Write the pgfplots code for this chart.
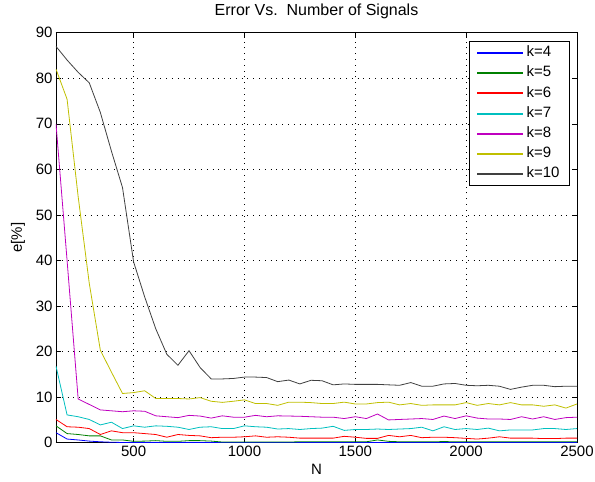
\documentclass[border=0pt]{standalone}
\usepackage{fontspec}
\setmainfont{Liberation Sans}
\usepackage{pgfplots}
\usepackage{pgfplotstable}
\pgfplotsset{compat=1.18}
\definecolor{mblue}{rgb}{0,0,1}
\definecolor{mgreen}{rgb}{0,0.5,0}
\definecolor{mred}{rgb}{1,0,0}
\definecolor{mcyan}{rgb}{0,0.75,0.75}
\definecolor{mmagenta}{rgb}{0.75,0,0.75}
\definecolor{myellow}{rgb}{0.75,0.75,0}
\definecolor{mgray}{rgb}{0.25,0.25,0.25}
\pgfplotstableread{
N k4 k5 k6 k7 k8 k9 k10
150 2.2 3.7 5.1 16.8 70 82 87
200 0.8 2.0 3.5 6.1 40 75.4 84
250 0.6 1.8 3.4 5.7 9.6 54 81.3
300 0.35 1.5 3.1 5.1 8.4 35 79
350 0.2 1.5 1.8 3.9 7.2 20.3 72.5
400 0.1 0.6 2.6 4.5 7.0 15.5 64
450 0.05 0.6 2.2 3.1 6.8 10.8 56
500 0.05 0.3 2.2 3.7 7.0 11.0 39.7
550 0.05 0.35 2.0 3.4 6.9 11.4 32
600 0.05 0.45 1.8 3.7 5.9 9.7 25
650 0.05 0.3 1.2 3.6 5.7 9.7 19.4
700 0.05 0.3 1.8 3.4 5.5 9.7 17
750 0.05 0.45 1.6 2.9 6.0 9.6 20.2
800 0.05 0.45 1.5 3.4 5.85 9.9 16.5
850 0.05 0.35 1.1 3.5 5.4 9.1 14
900 0.05 0.15 1.2 3.1 5.9 8.85 14
950 0.05 0.15 1.2 3.1 5.6 9.1 14.1
1000 0.05 0.15 1.3 3.7 5.6 9.4 14.4
1050 0.05 0.15 1.5 3.5 6.0 8.6 14.4
1100 0.05 0.15 1.2 3.4 5.7 8.6 14.3
1150 0.05 0.15 1.3 3.0 5.9 8.2 13.4
1200 0.05 0.15 1.2 3.1 5.85 8.9 13.75
1250 0.05 0.2 1.0 2.9 5.8 8.9 12.9
1300 0.05 0.2 1.0 3.1 5.7 8.8 13.7
1350 0.05 0.2 1.0 3.2 5.6 8.6 13.6
1400 0.05 0.2 1.0 3.6 5.6 8.6 12.7
1450 0.05 0.2 1.4 2.7 5.3 8.9 12.9
1500 0.05 0.2 1.2 2.9 5.7 8.5 12.8
1550 0.05 0.2 0.95 2.9 5.3 8.5 12.8
1600 0.05 0.6 0.95 3.0 6.3 8.8 12.8
1650 0.05 0.3 1.6 2.9 5.0 8.9 12.7
1700 0.05 0.2 1.3 3.0 5.1 8.3 12.6
1750 0.05 0.2 1.6 3.1 5.2 8.6 13.2
1800 0.05 0.2 1.1 3.4 5.3 8.2 12.4
1850 0.05 0.2 1.2 2.6 5.1 8.3 12.4
1900 0.05 0.25 1.2 3.5 5.85 8.3 12.9
1950 0.05 0.2 1.1 2.9 5.3 8.3 13.0
2000 0.05 0.2 0.95 3.1 5.9 8.8 12.6
2050 0.05 0.2 0.8 2.9 5.4 8.2 12.5
2100 0.05 0.2 1.0 3.2 5.2 8.6 12.6
2150 0.05 0.2 1.3 2.6 5.2 8.3 12.4
2200 0.05 0.2 1.0 2.8 5.1 8.8 11.7
2250 0.05 0.2 1.0 2.8 5.7 8.3 12.2
2300 0.05 0.2 1.0 2.8 5.2 8.3 12.6
2350 0.05 0.2 0.9 3.1 5.7 8.0 12.6
2400 0.05 0.2 0.9 3.1 5.1 8.3 12.3
2450 0.05 0.2 1.0 2.9 5.5 7.6 12.4
2500 0.05 0.2 1.0 3.1 5.6 8.5 12.4
}\data
\begin{document}
\begin{tikzpicture}
\begin{axis}[
  scale only axis, width=521pt, height=410pt,
  xmin=150, xmax=2500, ymin=0, ymax=90,
  xtick={500,1000,1500,2000,2500},
  ytick={0,10,...,90},
  tick align=inside, major tick length=5pt,
  tick style={black, line width=0.6pt},
  xmajorgrids, ymajorgrids,
  grid style={black, line width=0.6pt, dash pattern=on 0.8pt off 5pt},
  axis line style={black, line width=0.7pt},
  /pgf/number format/assume math mode=true,
  /pgf/number format/1000 sep={},
  scaled x ticks=false,
  tick label style={font=\fontsize{15}{18}\selectfont},
  title={Error Vs.\ \ Number of Signals},
  title style={font=\fontsize{16}{19}\selectfont, at={(axis description cs:0.5,1)}, anchor=base, yshift=11pt},
  xlabel={N},
  every axis x label/.style={at={(axis description cs:0.5,0)}, anchor=base, yshift=-32pt, font=\fontsize{15}{18}\selectfont},
  ylabel={e[\%]},
  every axis y label/.style={at={(axis description cs:-0.0653,0.5)}, rotate=90, anchor=base, font=\fontsize{15}{18}\selectfont},
  legend style={at={(axis description cs:1,1)}, anchor=north east, xshift=-7.7pt, yshift=-8.3pt,
    draw=black, line width=0.7pt, fill=white, font=\fontsize{15}{18}\selectfont,
    inner xsep=7pt, inner ysep=1.5pt, row sep=0pt,
    nodes={text height=11pt, text depth=3.5pt, inner ysep=2.85pt, inner xsep=2.5pt}},
  legend cell align=left,
  legend image code/.code={\draw[#1, line width=2pt] (0pt,0pt) -- (46pt,0pt);},
]
\addplot[mblue, line width=0.8pt] table[x=N,y=k4] {\data};
\addlegendentry{k=4}
\addplot[mgreen, line width=0.8pt] table[x=N,y=k5] {\data};
\addlegendentry{k=5}
\addplot[mred, line width=0.8pt] table[x=N,y=k6] {\data};
\addlegendentry{k=6}
\addplot[mcyan, line width=0.8pt] table[x=N,y=k7] {\data};
\addlegendentry{k=7}
\addplot[mmagenta, line width=0.8pt] table[x=N,y=k8] {\data};
\addlegendentry{k=8}
\addplot[myellow, line width=0.8pt] table[x=N,y=k9] {\data};
\addlegendentry{k=9}
\addplot[mgray, line width=0.8pt] table[x=N,y=k10] {\data};
\addlegendentry{k=10}
\end{axis}
\pgfresetboundingbox
\path[use as bounding box] (-56pt,-39.3pt) rectangle (539pt,442.7pt);
\end{tikzpicture}
\end{document}
